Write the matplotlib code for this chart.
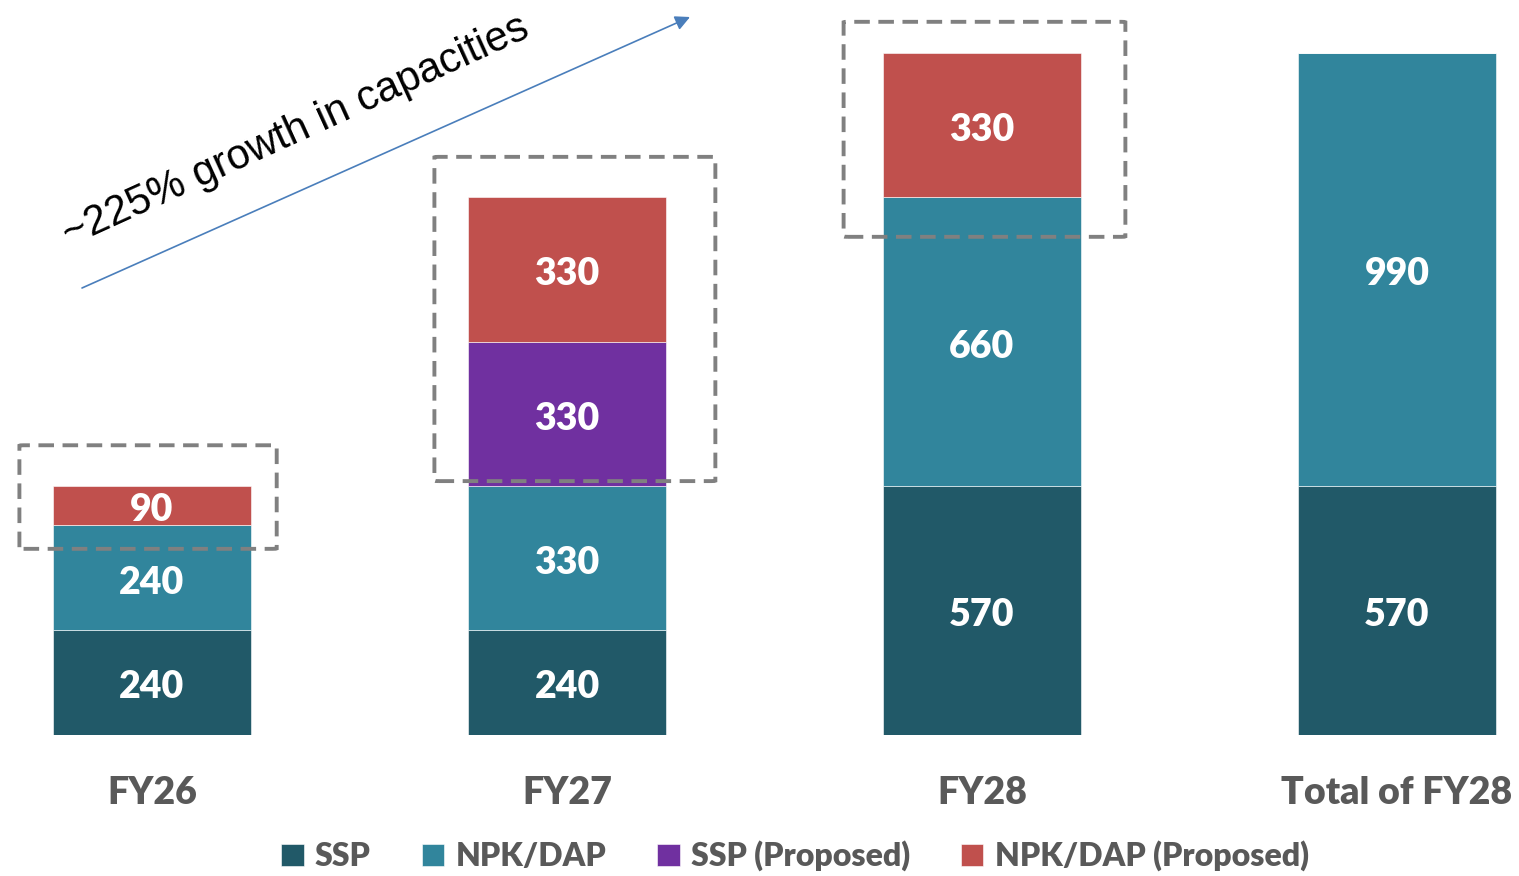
import matplotlib.pyplot as plt
from matplotlib.patches import FancyBboxPatch
import numpy as np

categories = ['FY26', 'FY27', 'FY28', 'Total of FY28']
ssp = [240, 240, 570, 570]
npk_dap = [240, 330, 660, 990]
ssp_proposed = [0, 330, 0, 0]
npk_dap_proposed = [90, 330, 330, 0]

series = [
    ('SSP', ssp, '#215968'),
    ('NPK/DAP', npk_dap, '#31859C'),
    ('SSP (Proposed)', ssp_proposed, '#7030A0'),
    ('NPK/DAP (Proposed)', npk_dap_proposed, '#C0504D'),
]

plt.rcParams['font.family'] = ['Lato', 'DejaVu Sans']

fig = plt.figure(figsize=(15.19, 8.76), dpi=100)
# axes spans whole width, bars bottom at 735 px from top
ax = fig.add_axes([0, 141 / 876, 1, 735 / 876])
x = np.arange(len(categories))
ax.set_xlim(-152 / 415, (1519 - 152) / 415)
ax.set_ylim(0, 735 / 0.437)

bottom = np.zeros(len(categories))
for name, vals, color in series:
    vals = np.array(vals, dtype=float)
    ax.bar(x, vals, width=0.475, bottom=bottom, color=color, label=name,
           edgecolor='white', linewidth=0.4)
    for xi, b, v in zip(x, bottom, vals):
        if v > 0:
            ax.annotate(f'{int(v)}', (xi, b + v / 2), xytext=(0, -3.5),
                        textcoords='offset points', ha='center', va='center',
                        color='white', fontsize=27, fontweight='heavy')
    bottom += vals

# dashed boxes round the proposed segments
proposed_bottom = np.array(ssp) + np.array(npk_dap)
proposed_top = proposed_bottom + np.array(ssp_proposed) + np.array(npk_dap_proposed)
# (left pad, right pad, pad below, pad above) in data units
box_pads = [(0.082, 0.063, 54, 93), (0.082, 0.12, -11, 93), (0.096, 0.108, 90, 72)]
for i, (pl, pr, pb, pt) in enumerate(box_pads):
    x0 = x[i] - 0.2375 - pl
    x1 = x[i] + 0.2375 + pr
    y0 = proposed_bottom[i] - pb
    y1 = proposed_top[i] + pt
    ax.add_patch(FancyBboxPatch((x0, y0), x1 - x0, y1 - y0,
                                boxstyle='round,pad=0,rounding_size=0.01',
                                fill=False, edgecolor='#808080', linewidth=2.8,
                                linestyle=(0, (4, 2.2)), zorder=5,
                                mutation_aspect=100))

ax.set_xticks(x)
ax.set_xticklabels(categories, fontsize=27, fontweight='heavy', color='#595959')
ax.tick_params(axis='x', length=0, pad=29.5)
ax.set_yticks([])
for s in ax.spines.values():
    s.set_visible(False)

# growth arrow and text
ax.annotate('', xy=(690, 876 - 17), xytext=(82, 876 - 288),
            xycoords='figure pixels', textcoords='figure pixels',
            arrowprops=dict(arrowstyle='-|>', color='#4A7EBB', lw=1.2,
                            mutation_scale=22, shrinkA=0, shrinkB=0))
fig.text(296 / 1519, 1 - 131 / 876, '~225% growth in capacities',
         rotation=24.5, rotation_mode='anchor', ha='center', va='center',
         fontsize=30, family=['Liberation Sans', 'DejaVu Sans'], color='black')

handles, labels = ax.get_legend_handles_labels()
fig.legend(handles, labels, loc='center', bbox_to_anchor=(795 / 1519, 1 - 856 / 876),
           ncol=4, frameon=False, handlelength=0.7, handleheight=0.7,
           handletextpad=0.35, columnspacing=1.6,
           prop=dict(size=23, weight='heavy'), labelcolor='#595959')

fig.savefig('out.png', dpi=100)
